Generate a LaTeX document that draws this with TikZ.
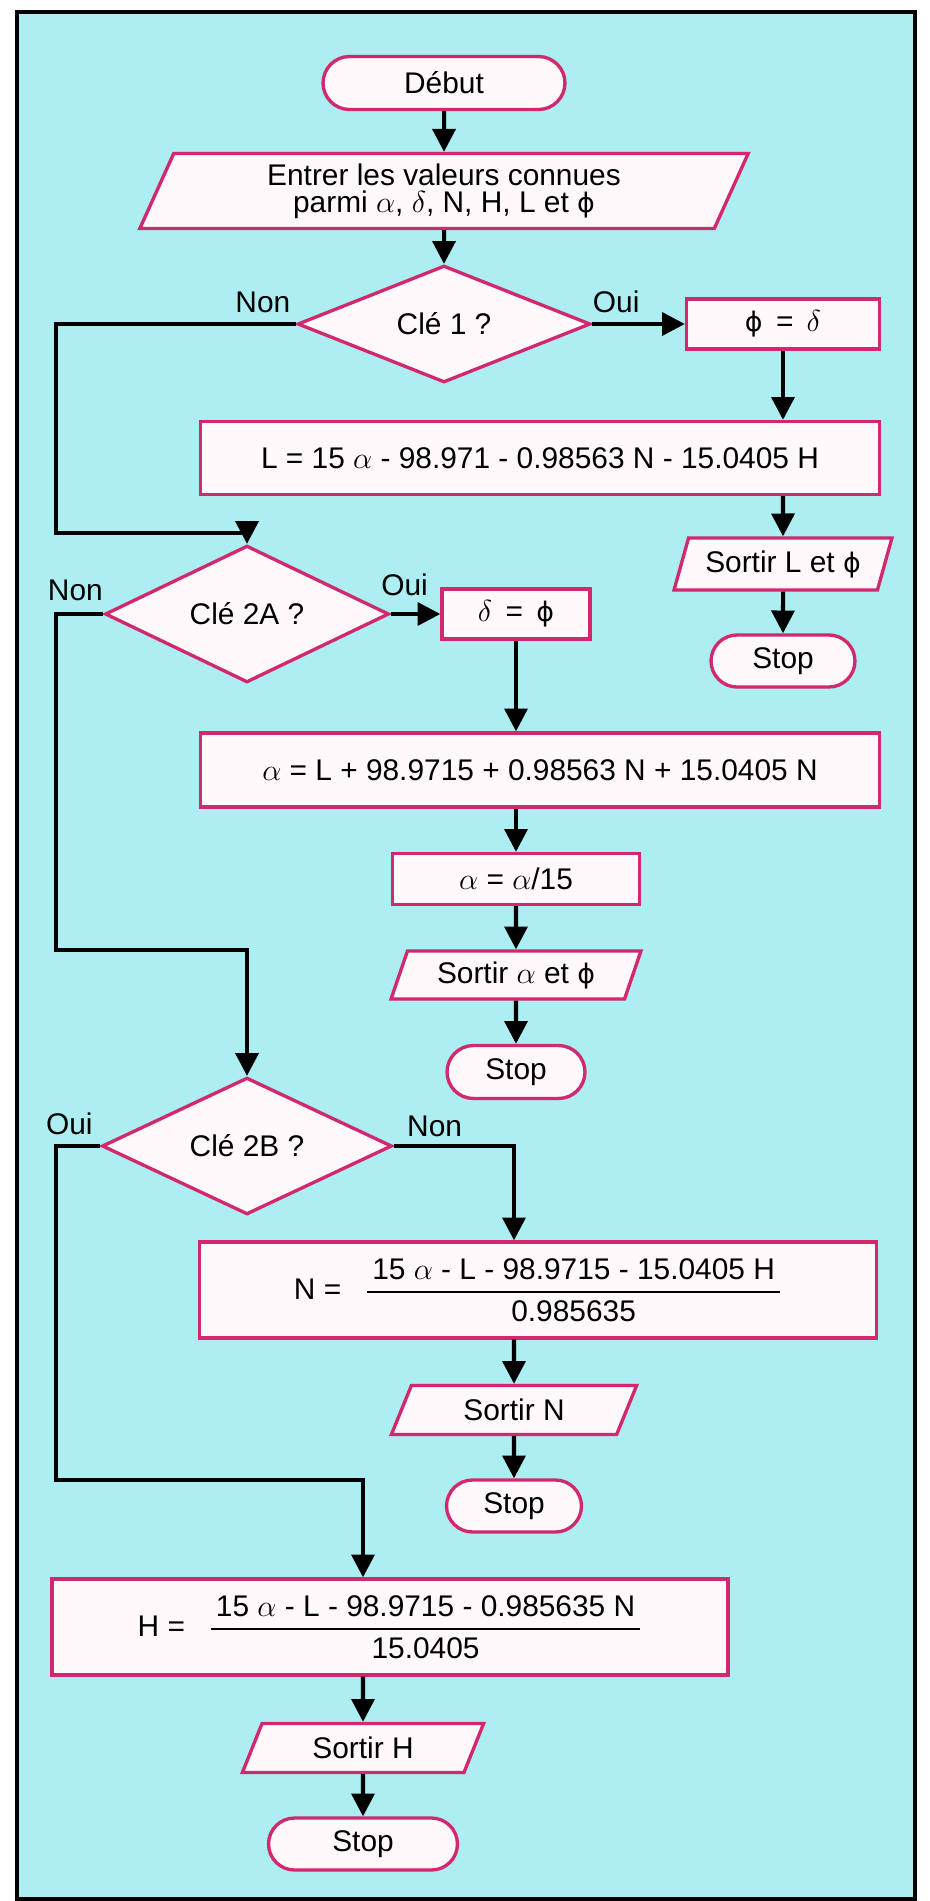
\documentclass[tikz,border=0pt]{standalone}
\usepackage{amsmath}
\usepackage{fontspec}
\setmainfont{Liberation Sans}
\newfontfamily\phifont{DejaVu Sans}[Scale=0.9]
\newcommand{\varfi}{{\phifont ϕ}}
\usetikzlibrary{shapes.geometric,shapes.misc,arrows.meta}
\definecolor{fondbleu}{RGB}{172,238,242}
\definecolor{bordrose}{RGB}{210,40,110}
\definecolor{fondblanc}{RGB}{255,249,251}
\begin{document}
\begin{tikzpicture}[x=0.02cm,y=-0.02cm,every node/.style={font=\fontsize{17}{15.5}\selectfont},
  box/.style={draw=bordrose,line width=1.9pt,fill=fondblanc,rectangle,inner sep=2pt},
  io/.style={box,trapezium,trapezium left angle=70,trapezium right angle=110,trapezium stretches=true},
  term/.style={box,rounded rectangle},
  test/.style={box,diamond,inner sep=0pt},
  lbl/.style={inner sep=0pt},
  arr/.style={line width=2.3pt,-{Triangle[length=13pt,width=13pt]}}]
\useasboundingbox (0,0) rectangle (930,1901);
\fill[white] (0,0) rectangle (930,1901);
\draw[line width=1.8pt,fill=fondbleu] (17,12) rectangle (915,1899);
% Entree et cle 1
\node[term,minimum width=4.98cm,minimum height=1.06cm] (debut) at (444,83) {Début};
\node[io,minimum width=12.2cm,minimum height=1.5cm,align=center] (entree) at (444,191) {Entrer les valeurs connues\\parmi $\alpha$, $\delta$, N, H, L et \varfi};
\node[test,minimum width=5.86cm,minimum height=1.9cm] (cle1) at (444,324) {Clé 1 ?};
\node[box,minimum width=3.86cm,minimum height=1cm] (phid) at (783,324) {\varfi\ \,=\ \,$\delta$};
\node[box,minimum width=13.58cm,minimum height=1.46cm] (lbox) at (540,458) {L = 15 $\alpha$ - 98.971 - 0.98563 N - 15.0405 H};
\node[io,minimum width=4.36cm,minimum height=1.04cm] (sortL) at (783,564) {Sortir L et \varfi};
\node[term,minimum width=3.02cm,minimum height=1.04cm] (stop1) at (783,661) {Stop};
% Cle 2A
\node[test,minimum width=5.68cm,minimum height=1.96cm] (cle2a) at (247,614) {Clé 2A ?};
\node[box,minimum width=2.96cm,minimum height=1cm] (dphi) at (516,614) {$\delta$\ \,=\ \,\varfi};
\node[box,minimum width=13.58cm,minimum height=1.48cm] (abox) at (540,770) {$\alpha$ = L + 98.9715 + 0.98563 N + 15.0405 N};
\node[box,minimum width=4.94cm,minimum height=1.02cm] (a15) at (516,879) {$\alpha$ = $\alpha$/15};
\node[io,minimum width=5cm,minimum height=0.96cm] (sortA) at (516,975) {Sortir $\alpha$ et \varfi};
\node[term,minimum width=2.9cm,minimum height=1.06cm] (stop2) at (516,1072) {Stop};
% Cle 2B
\node[test,minimum width=5.8cm,minimum height=1.96cm] (cle2b) at (247,1146) {Clé 2B ?};
\node[box,minimum width=13.54cm,minimum height=1.92cm] (nbox) at (538,1290) {N =\hspace{0.8em}$\genfrac{}{}{1.4pt}{0}{\mbox{\,15 $\alpha$ - L - 98.9715 - 15.0405 H\,}}{\mbox{0.985635}}$};
\node[io,minimum width=4.94cm,minimum height=0.98cm] (sortN) at (514,1410) {Sortir N};
\node[term,minimum width=2.84cm,minimum height=1.04cm] (stop3) at (514,1506) {Stop};
\node[box,minimum width=13.52cm,minimum height=1.92cm] (hbox) at (390,1627) {H =\hspace{0.8em}$\genfrac{}{}{1.4pt}{0}{\mbox{\,15 $\alpha$ - L - 98.9715 - 0.985635 N\,}}{\mbox{15.0405}}$};
\node[io,minimum width=4.86cm,minimum height=0.98cm] (sortH) at (363,1748) {Sortir H};
\node[term,minimum width=3.92cm,minimum height=1.04cm] (stop4) at (363,1844) {Stop};
% Oui / Non
\node[lbl] (non1) at ([shift={(-33,-22)}]cle1.west) {Non};
\node[lbl] (oui1) at ([shift={(24,-22)}]cle1.east) {Oui};
\node[lbl] (non2) at ([shift={(-28,-24)}]cle2a.west) {Non};
\node[lbl] (oui2) at ([shift={(14,-29)}]cle2a.east) {Oui};
\node[lbl] (oui3) at ([shift={(-31,-22)}]cle2b.west) {Oui};
\node[lbl] (non3) at ([shift={(41,-20)}]cle2b.east) {Non};
\coordinate (coin1) at (56,533);
\coordinate (coin2) at (56,950);
\coordinate (coin3) at (56,1480);
% Liaisons
\draw[arr] (debut) -- (entree);
\draw[arr] (entree) -- (cle1);
\draw[arr] (cle1.east) -- (phid.west);
\draw[arr] (phid) -- (phid |- lbox.north);
\draw[arr] (lbox.south -| sortL) -- (sortL);
\draw[arr] (sortL) -- (stop1);
\draw[arr] (cle1.west) -| (coin1) -| (cle2a.north);
\draw[arr] (cle2a.east) -- (dphi.west);
\draw[arr] (dphi) -- (dphi |- abox.north);
\draw[arr] (abox.south -| a15) -- (a15);
\draw[arr] (a15) -- (sortA);
\draw[arr] (sortA) -- (stop2);
\draw[arr] (cle2a.west) -| (coin2) -| (cle2b.north);
\draw[arr] (cle2b.east) -| (nbox.north -| sortN);
\draw[arr] (sortN) -- (stop3);
\draw[arr] (nbox.south -| sortN) -- (sortN);
\draw[arr] (cle2b.west) -| (coin3) -| (hbox.north -| sortH);
\draw[arr] (hbox.south -| sortH) -- (sortH);
\draw[arr] (sortH) -- (stop4);
\end{tikzpicture}
\end{document}
